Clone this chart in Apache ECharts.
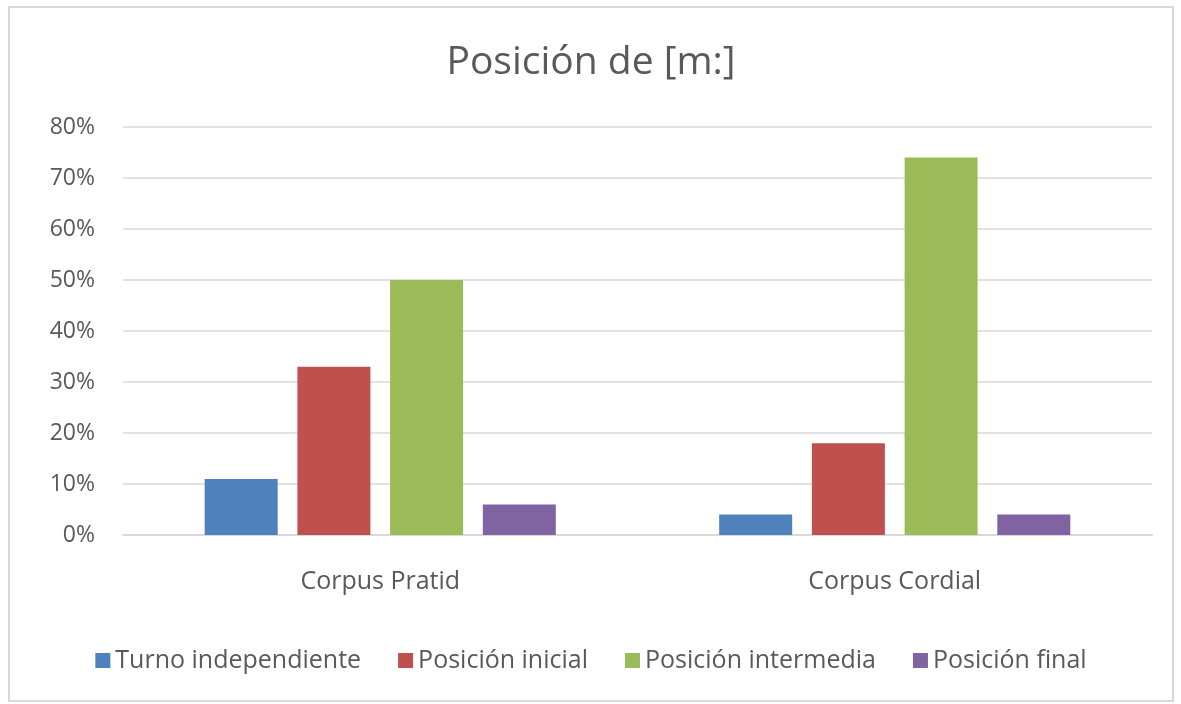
<!DOCTYPE html>
<html>
<head>
    <meta charset="utf-8">
    <title>Posición de [m:]</title>
    <script type="text/javascript" src="https://cdn.jsdelivr.net/npm/echarts@6/dist/echarts.min.js"></script>
    <style>
        body {
            margin: 0px;
            padding: 0px;
            background: #fff;
        }
        #chartRegion {
            position: absolute;
            left: 8px;
            top: 6px;
            width: 1162px;
            height: 692px;
            border: 2px solid #d9d9d9;
        }
    </style>
</head>
<body>
<div id="chartRegion"></div>
<script type="text/javascript">
    var categories = ['Corpus Pratid', 'Corpus Cordial'];
    var seriesNames = ['Turno independiente', 'Posición inicial', 'Posición intermedia', 'Posición final'];
    var turnoIndependiente = [11, 4];
    var posicionInicial = [33, 18];
    var posicionIntermedia = [50, 74];
    var posicionFinal = [6, 4];
    var yTicks = [0, 10, 20, 30, 40, 50, 60, 70, 80];

    var colors = ['#4f81bd', '#c0504d', '#9bbb59', '#8064a2'];
    var values = [turnoIndependiente, posicionInicial, posicionIntermedia, posicionFinal];
    var font = '"Open Sans", Lato, sans-serif';

    var chart = echarts.init(document.getElementById('chartRegion'));
    var series = [];
    for (var i = 0; i < seriesNames.length; i++) {
        series.push({
            name: seriesNames[i],
            type: 'bar',
            data: values[i],
            barWidth: 73,
            barGap: '27%',
            itemStyle: {color: colors[i]}
        });
    }

    var option = {
        animation: false,
        textStyle: {fontFamily: font},
        title: {
            text: 'Posición de [m:]',
            left: 'center',
            top: 30,
            textStyle: {fontSize: 39, fontWeight: 'normal', color: '#595959', fontFamily: font}
        },
        legend: {
            data: seriesNames,
            bottom: 22,
            left: 'center',
            icon: 'rect',
            itemWidth: 15,
            itemHeight: 15,
            itemGap: 37,
            textStyle: {fontSize: 25, color: '#595959', fontFamily: font}
        },
        grid: {
            left: 113,
            right: 20,
            top: 119,
            bottom: 165
        },
        xAxis: {
            type: 'category',
            data: categories,
            axisTick: {show: false},
            axisLine: {lineStyle: {color: '#d9d9d9', width: 2}},
            axisLabel: {fontSize: 25, color: '#595959', margin: 34}
        },
        yAxis: {
            type: 'value',
            min: yTicks[0],
            max: yTicks[yTicks.length - 1],
            interval: 10,
            axisLine: {show: false},
            axisTick: {show: false},
            splitLine: {lineStyle: {color: '#d9d9d9', width: 1.5}},
            axisLabel: {
                fontSize: 23,
                color: '#595959',
                margin: 28,
                formatter: function (v) { return v + '%'; }
            }
        },
        series: series
    };
    chart.setOption(option);
</script>
</body>
</html>
